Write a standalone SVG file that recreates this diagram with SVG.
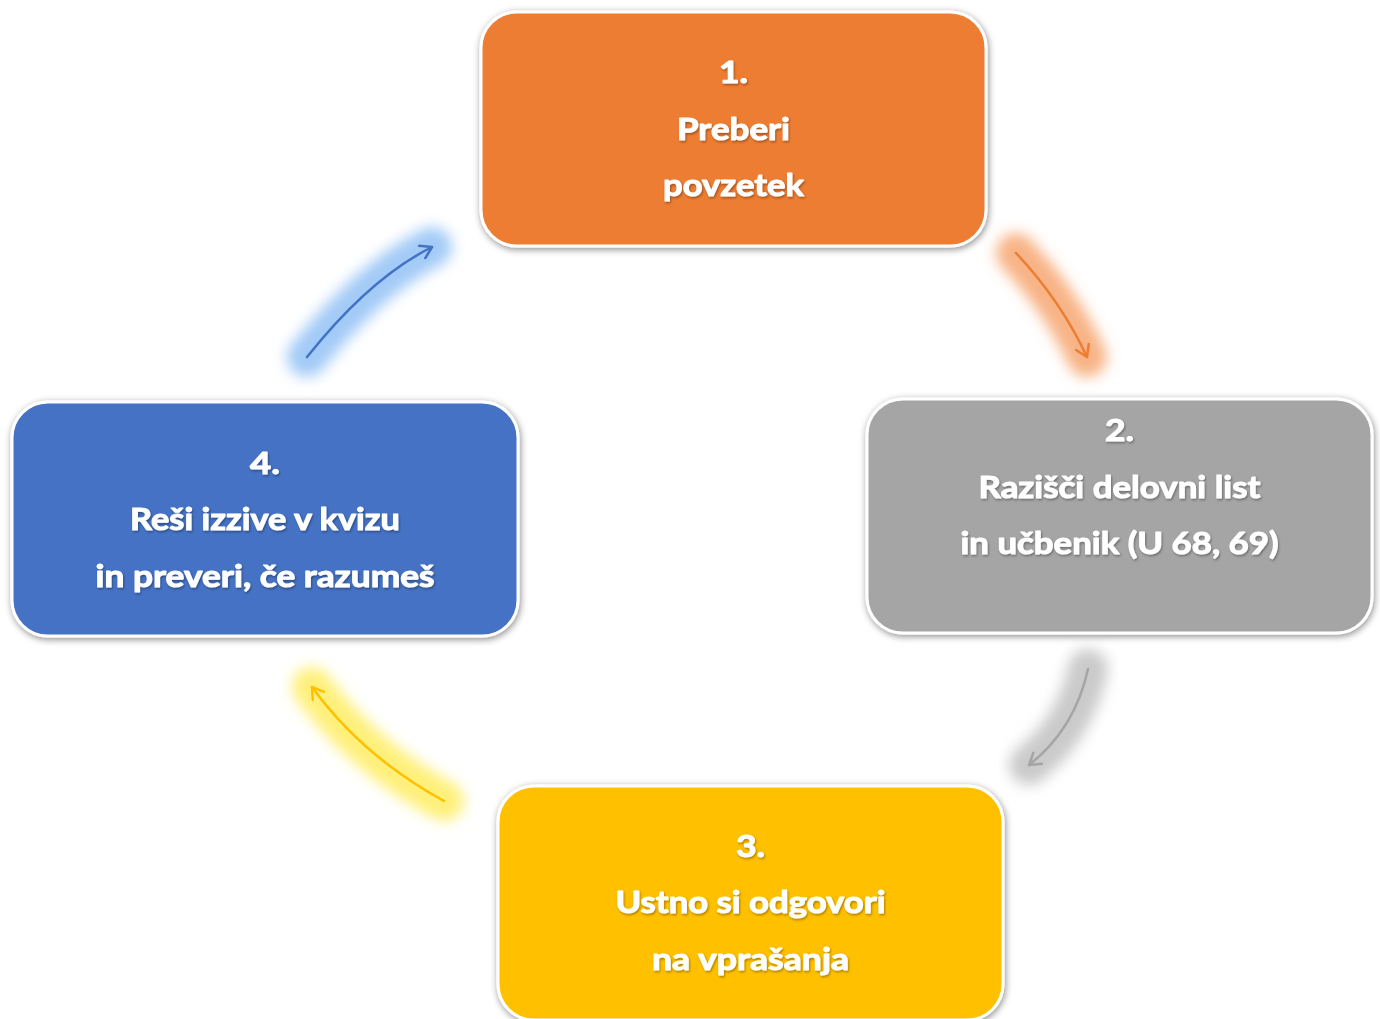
<svg xmlns="http://www.w3.org/2000/svg" width="1380" height="1019" viewBox="0 0 1380 1019">
<defs>
<style>
.box{stroke:#ffffff;stroke-width:3;filter:url(#shadow)}
.lbl{font-family:Lato,"Open Sans","Liberation Sans",sans-serif;font-weight:bold;font-size:31px;fill:#ffffff;stroke:#ffffff;stroke-width:1;stroke-linejoin:round;text-anchor:middle;filter:url(#tshadow)}
.glow{fill:none;stroke-width:40;stroke-linecap:round;filter:url(#blur)}
.arr{fill:none;stroke-width:2.5;stroke-linecap:round}
</style>
<filter id="shadow" x="-10%" y="-10%" width="120%" height="125%">
<feDropShadow dx="1" dy="2" stdDeviation="3.5" flood-color="#000" flood-opacity="0.45"/>
</filter>
<filter id="tshadow" x="-10%" y="-20%" width="120%" height="150%">
<feDropShadow dx="1" dy="1.5" stdDeviation="1" flood-color="#000" flood-opacity="0.35"/>
</filter>
<filter id="blur" x="-50%" y="-50%" width="200%" height="200%">
<feGaussianBlur stdDeviation="7"/>
</filter>
<marker id="mBlue" markerUnits="userSpaceOnUse" viewBox="0 0 16 16" refX="14" refY="8" markerWidth="16" markerHeight="16" orient="auto"><path d="M3,1 L14,8 L3,15" fill="none" stroke="#4472C4" stroke-width="2.5" stroke-linecap="round" stroke-linejoin="round"/></marker>
<marker id="mOrange" markerUnits="userSpaceOnUse" viewBox="0 0 16 16" refX="14" refY="8" markerWidth="16" markerHeight="16" orient="auto"><path d="M3,1 L14,8 L3,15" fill="none" stroke="#ED7D31" stroke-width="2.5" stroke-linecap="round" stroke-linejoin="round"/></marker>
<marker id="mGray" markerUnits="userSpaceOnUse" viewBox="0 0 16 16" refX="14" refY="8" markerWidth="16" markerHeight="16" orient="auto"><path d="M3,1 L14,8 L3,15" fill="none" stroke="#A5A5A5" stroke-width="2.5" stroke-linecap="round" stroke-linejoin="round"/></marker>
<marker id="mYellow" markerUnits="userSpaceOnUse" viewBox="0 0 16 16" refX="14" refY="8" markerWidth="16" markerHeight="16" orient="auto"><path d="M3,1 L14,8 L3,15" fill="none" stroke="#FFC000" stroke-width="2.5" stroke-linecap="round" stroke-linejoin="round"/></marker>
</defs>
<rect width="1380" height="1019" fill="#ffffff"/>
<g id="connectors">
<path class="glow" stroke="#A3CBF7" d="M307,357 Q370,278 432,247"/>
<path class="arr" stroke="#4472C4" marker-end="url(#mBlue)" d="M307,357 Q370,278 432,247"/>
<path class="glow" stroke="#F8B386" d="M1016,253 Q1061,301 1087,357"/>
<path class="arr" stroke="#ED7D31" marker-end="url(#mOrange)" d="M1016,253 Q1061,301 1087,357"/>
<path class="glow" stroke="#CACACA" d="M1088,669 Q1075,729 1029,765"/>
<path class="arr" stroke="#A5A5A5" marker-end="url(#mGray)" d="M1088,669 Q1075,729 1029,765"/>
<path class="glow" stroke="#FFF07A" d="M444,801 Q362,756 312,687"/>
<path class="arr" stroke="#FFC000" marker-end="url(#mYellow)" d="M444,801 Q362,756 312,687"/>
</g>
<g id="node1">
<rect class="box" x="481" y="12" width="505" height="234" rx="36" fill="#ED7D31"/>
<text class="lbl" x="733.5" y="83" textLength="29" lengthAdjust="spacingAndGlyphs">1.</text>
<text class="lbl" x="733.5" y="140" textLength="113" lengthAdjust="spacingAndGlyphs">Preberi</text>
<text class="lbl" x="733.5" y="196" textLength="141" lengthAdjust="spacingAndGlyphs">povzetek</text>
</g>
<g id="node2">
<rect class="box" x="867" y="399" width="505" height="234" rx="36" fill="#A5A5A5"/>
<text class="lbl" x="1119.5" y="441" textLength="29" lengthAdjust="spacingAndGlyphs">2.</text>
<text class="lbl" x="1119.5" y="498" textLength="282" lengthAdjust="spacingAndGlyphs">Razišči delovni list</text>
<text class="lbl" x="1119.5" y="554" textLength="318" lengthAdjust="spacingAndGlyphs">in učbenik (U 68, 69)</text>
</g>
<g id="node3">
<rect class="box" x="498" y="786" width="505" height="234" rx="36" fill="#FFC000"/>
<text class="lbl" x="750.5" y="857" textLength="29" lengthAdjust="spacingAndGlyphs">3.</text>
<text class="lbl" x="750.5" y="913" textLength="270" lengthAdjust="spacingAndGlyphs">Ustno si odgovori</text>
<text class="lbl" x="750.5" y="970" textLength="197" lengthAdjust="spacingAndGlyphs">na vprašanja</text>
</g>
<g id="node4">
<rect class="box" x="12" y="402" width="506" height="234" rx="36" fill="#4472C4"/>
<text class="lbl" x="265" y="474" textLength="30" lengthAdjust="spacingAndGlyphs">4.</text>
<text class="lbl" x="265" y="530" textLength="270" lengthAdjust="spacingAndGlyphs">Reši izzive v kvizu</text>
<text class="lbl" x="265" y="587" textLength="339" lengthAdjust="spacingAndGlyphs">in preveri, če razumeš</text>
</g>
</svg>
